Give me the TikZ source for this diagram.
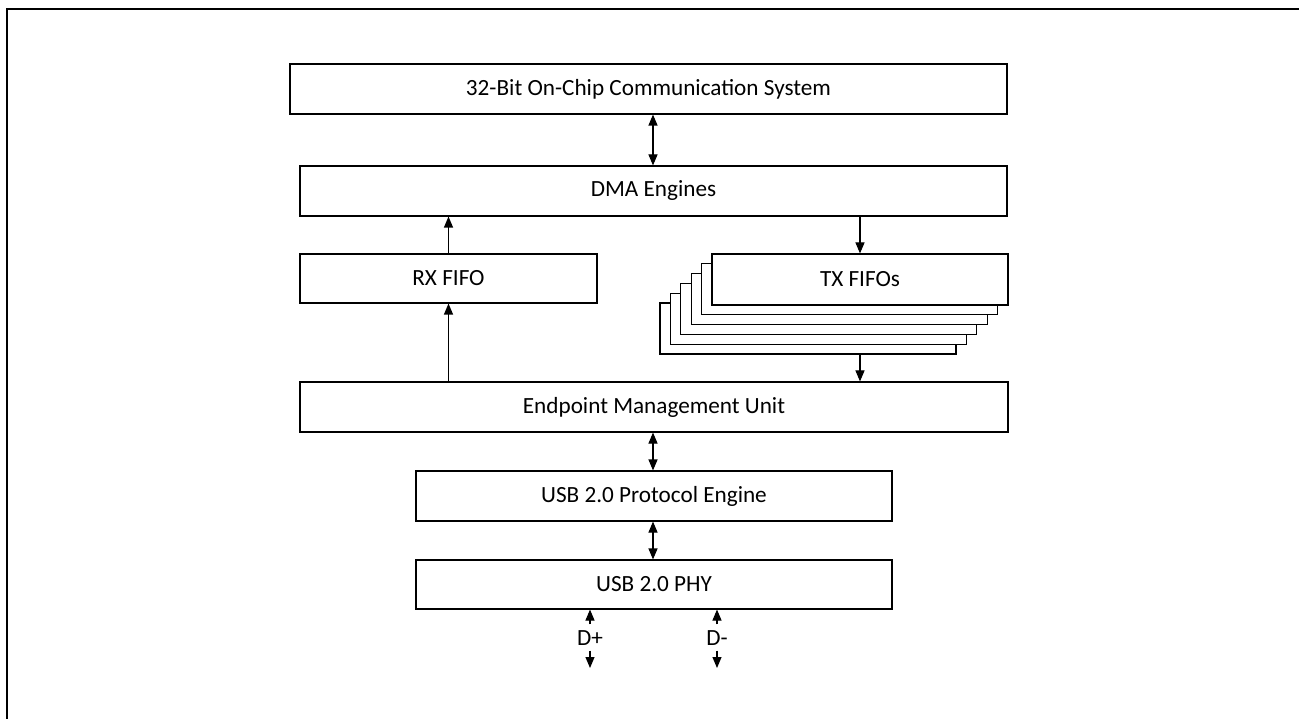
\documentclass[tikz,border=0pt]{standalone}
\usepackage{fontspec}
\setmainfont{Carlito}
\usetikzlibrary{arrows.meta,calc}
\begin{document}
\begin{tikzpicture}[x=1pt,y=-1pt,
  blk/.style={draw=black,line width=1.1pt,fill=white,inner sep=0pt,font=\fontsize{23.2}{28}\selectfont},
  conn/.style={line width=1.1pt,-{Triangle[width=9pt,length=11pt]}},
  bconn/.style={line width=1.1pt,{Triangle[width=9pt,length=11pt]}-{Triangle[width=9pt,length=11pt]}},
  lbl/.style={inner sep=0pt,font=\fontsize{23.2}{28}\selectfont}]
\useasboundingbox (0,0) rectangle (1299,719);
\draw[line width=2.6pt] (7,725) -- (7,9) -- (1305,9);
\node[blk,minimum width=717pt,minimum height=50pt] (bus) at (648.5,89) {32-Bit On-Chip Communication System};
\node[blk,minimum width=707pt,minimum height=50pt] (dma) at (653.5,191) {DMA Engines};
\node[blk,minimum width=297pt,minimum height=49pt] (rx) at (448.5,278.5) {RX FIFO};
\foreach \k in {5,4,3,2,1}{
  \node[blk,minimum width=296pt,minimum height=51pt] (txb\k) at ({860-10.4*\k},{279.5+9.8*\k}) {};
}
\node[blk,minimum width=296pt,minimum height=51pt] (tx) at (860,279.5) {TX FIFOs};
\node[blk,minimum width=708pt,minimum height=50pt] (emu) at (654,407) {Endpoint Management Unit};
\node[blk,minimum width=476pt,minimum height=50pt] (pe) at (654,496) {USB 2.0 Protocol Engine};
\node[blk,minimum width=476pt,minimum height=49pt] (phy) at (654,584.5) {USB 2.0 PHY};
\node[lbl] (dp) at (590,638) {D+};
\node[lbl] (dm) at (717,638) {D-};
\coordinate (dpe) at (590,668);
\coordinate (dme) at (717,668);
\draw[bconn] ($(bus.south)+(4.5,0)$) -- ($(dma.north)+(-0.5,0)$);
\draw[conn] (rx.north) -- (rx.north |- dma.south);
\draw[conn] (dma.south -| tx.south) -- (tx.north);
\draw[conn] (tx.south |- txb5.south) -- (tx.south |- emu.north);
\draw[conn] (emu.north -| rx.south) -- (rx.south);
\draw[bconn] ($(emu.south)+(-1,0)$) -- ($(pe.north)+(-1,0)$);
\draw[bconn] ($(pe.south)+(-1,0)$) -- ($(phy.north)+(-1,0)$);
\draw[conn] ($(dp.north)+(0,-6)$) -- (dp.north |- phy.south);
\draw[conn] ($(dm.north)+(0,-6)$) -- (dm.north |- phy.south);
\draw[conn] ($(dp.south)+(0,5)$) -- (dpe);
\draw[conn] ($(dm.south)+(0,5)$) -- (dme);
\end{tikzpicture}
\end{document}
